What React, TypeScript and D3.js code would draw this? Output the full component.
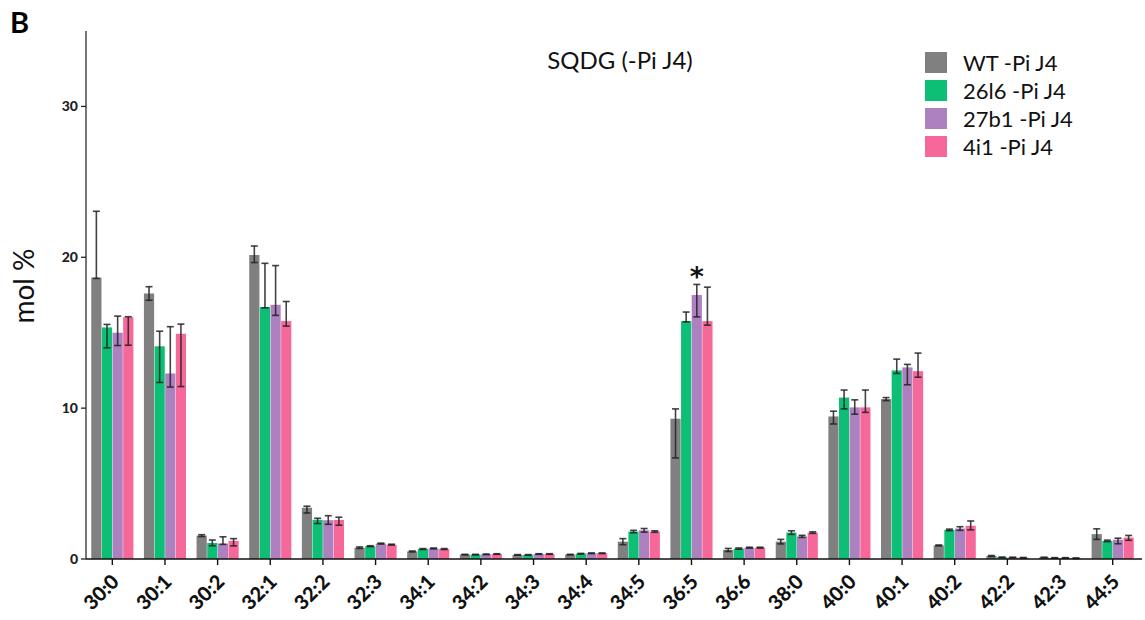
import React from "react";
import * as d3 from "d3";

const categories = ["30:0","30:1","30:2","32:1","32:2","32:3","34:1","34:2","34:3","34:4","34:5","36:5","36:6","38:0","40:0","40:1","40:2","42:2","42:3","44:5"];
const seriesNames = ["WT -Pi J4", "26l6 -Pi J4", "27b1 -Pi J4", "4i1 -Pi J4"];
const seriesColors = ["#808080", "#0cbf74", "#ad80c0", "#f7689a"];

const wtValues = [18.65,17.6,1.55,20.15,3.4,0.75,0.5,0.29,0.27,0.29,1.15,9.3,0.6,1.15,9.45,10.6,0.9,0.2,0.1,1.65];
const wtErrUp = [4.4,0.45,0.06,0.6,0.1,0.05,0.03,0.02,0.02,0.02,0.2,0.65,0.1,0.15,0.35,0.1,0.03,0.03,0.02,0.35];
const wtErrDown = [0.05,0.45,0.06,0.5,0.35,0.05,0.03,0.02,0.02,0.02,0.2,2.6,0.1,0.15,0.5,0.1,0.03,0.03,0.02,0.35];

const l26Values = [15.35,14.1,1.06,16.7,2.6,0.85,0.66,0.29,0.27,0.35,1.82,15.77,0.69,1.75,10.7,12.5,1.93,0.11,0.07,1.2];
const l26ErrUp = [0.2,1.0,0.2,2.9,0.1,0.03,0.03,0.02,0.02,0.02,0.08,0.6,0.04,0.12,0.5,0.75,0.05,0.02,0.02,0.05];
const l26ErrDown = [1.35,2.4,0.18,0.05,0.25,0.03,0.03,0.02,0.02,0.02,0.08,0.05,0.04,0.12,0.75,0.2,0.05,0.02,0.02,0.05];

const b27Values = [15.0,12.3,1.02,16.85,2.57,1.02,0.7,0.31,0.33,0.38,1.9,17.5,0.75,1.5,10.05,12.7,2.02,0.1,0.07,1.28];
const b27ErrUp = [1.1,3.1,0.45,2.6,0.3,0.03,0.03,0.02,0.02,0.02,0.12,0.7,0.03,0.07,0.5,0.2,0.12,0.02,0.02,0.1];
const b27ErrDown = [0.85,0.9,0.05,0.7,0.27,0.03,0.03,0.02,0.02,0.02,0.12,1.45,0.03,0.07,0.45,1.15,0.12,0.02,0.02,0.27];

const i4Values = [16.03,14.93,1.2,15.77,2.59,0.95,0.66,0.33,0.33,0.38,1.82,15.77,0.75,1.75,10.05,12.45,2.2,0.08,0.05,1.42];
const i4ErrUp = [0.03,0.64,0.15,1.3,0.18,0.03,0.03,0.02,0.02,0.02,0.05,2.25,0.03,0.05,1.15,1.2,0.32,0.02,0.02,0.14];
const i4ErrDown = [1.86,3.5,0.33,0.33,0.35,0.03,0.03,0.02,0.02,0.02,0.05,0.27,0.03,0.05,0.33,0.4,0.27,0.02,0.02,0.18];

const yTicks = [0, 10, 20, 30];
const yMax = 35;
const starCategory = "36:5";
const starSeries = 2;

const series = [
  { values: wtValues, up: wtErrUp, down: wtErrDown },
  { values: l26Values, up: l26ErrUp, down: l26ErrDown },
  { values: b27Values, up: b27ErrUp, down: b27ErrDown },
  { values: i4Values, up: i4ErrUp, down: i4ErrDown },
];

export default function App() {
  const W = 1145, H = 620;
  const left = 86, bottom = 559, top = 31, right = 1139;
  const x = d3.scaleBand<string>().domain(categories).range([left, right]).paddingInner(0.2).paddingOuter(0.1);
  const xs = d3.scaleBand<number>().domain([0, 1, 2, 3]).range([0, x.bandwidth()]).paddingInner(0.04);
  const y = d3.scaleLinear().domain([0, yMax]).range([bottom, top]);
  const font = "Lato, 'Open Sans', sans-serif";
  const capW = 3.5;

  return (
    <svg width={W} height={H} style={{ position: "absolute", left: 0, top: 0, background: "#fff" }} fontFamily={font}>
      <text x={10} y={33} fontSize={29} fontWeight="bold" fill="#000">B</text>
      <text x={620} y={69} fontSize={24} textAnchor="middle" fill="#111">SQDG (-Pi J4)</text>

      {/* bars */}
      {categories.map((c, ci) => (
        <g key={c}>
          {series.map((s, si) => {
            const bx = (x(c) as number) + (xs(si) as number);
            const bw = xs.bandwidth();
            const v = s.values[ci];
            return (
              <rect key={si} x={bx} y={y(v)} width={bw} height={y(0) - y(v)} fill={seriesColors[si]} />
            );
          })}
        </g>
      ))}
      {/* error bars */}
      {categories.map((c, ci) => (
        <g key={"e" + c} stroke="#222" strokeWidth={1.6} strokeOpacity={0.85}>
          {series.map((s, si) => {
            const cx = (x(c) as number) + (xs(si) as number) + xs.bandwidth() / 2;
            const v = s.values[ci];
            const hi = y(v + s.up[ci]);
            const lo = y(Math.max(0, v - s.down[ci]));
            return (
              <g key={si}>
                <line x1={cx} x2={cx} y1={hi} y2={lo} />
                <line x1={cx - capW} x2={cx + capW} y1={hi} y2={hi} />
                <line x1={cx - capW} x2={cx + capW} y1={lo} y2={lo} />
              </g>
            );
          })}
        </g>
      ))}
      {/* significance star */}
      {(() => {
        const cx = (x(starCategory) as number) + (xs(starSeries) as number) + xs.bandwidth() / 2;
        const ci = categories.indexOf(starCategory);
        const s = series[starSeries];
        return (
          <text x={cx} y={y(s.values[ci] + s.up[ci]) + 2} fontSize={27} fontWeight="bold" fontFamily="'DejaVu Sans', sans-serif" textAnchor="middle" fill="#111">*</text>
        );
      })()}

      {/* y axis */}
      <line x1={left} x2={left} y1={top} y2={bottom} stroke="#555" strokeWidth={1.6} />
      {yTicks.map((t) => (
        <g key={t}>
          <line x1={left - 5} x2={left} y1={y(t)} y2={y(t)} stroke="#222" strokeWidth={1.3} />
          <text x={left - 8} y={y(t)} dy="0.35em" fontSize={14} fontWeight="900" textAnchor="end" fill="#222">{t}</text>
        </g>
      ))}
      <text transform={`translate(34,286) rotate(-90)`} fontSize={28} textAnchor="middle" fill="#111">mol %</text>

      {/* x axis */}
      <line x1={left} x2={1142} y1={bottom} y2={bottom} stroke="#111" strokeWidth={1.6} />
      {categories.map((c) => {
        const cx = (x(c) as number) + x.bandwidth() / 2;
        return (
          <g key={"t" + c}>
            <line x1={cx} x2={cx} y1={bottom} y2={bottom + 6} stroke="#111" strokeWidth={1.4} />
            <text transform={`translate(${cx + 8},${bottom + 24}) rotate(-45)`} fontSize={20} fontWeight="900" textAnchor="end" fill="#111">{c}</text>
          </g>
        );
      })}

      {/* legend */}
      {seriesNames.map((n, i) => (
        <g key={n} transform={`translate(925,${52 + i * 28})`}>
          <rect x={0} y={0} width={22} height={21} fill={seriesColors[i]} />
          <text x={38} y={11} dy="0.36em" fontSize={22} fill="#111">{n}</text>
        </g>
      ))}
    </svg>
  );
}
